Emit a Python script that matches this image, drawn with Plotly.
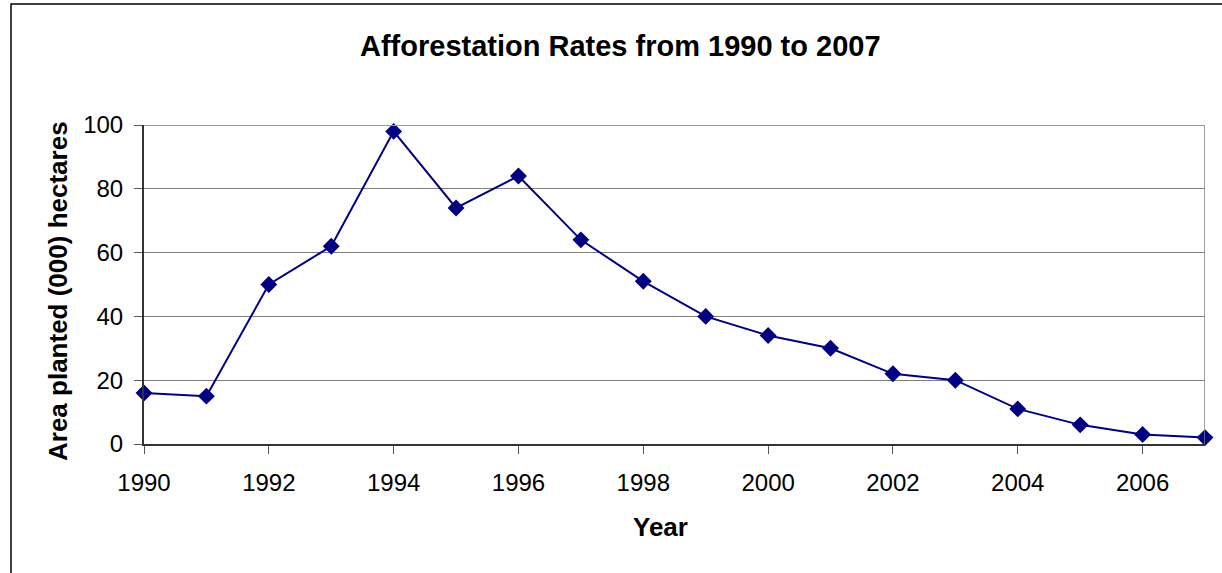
import plotly.graph_objects as go

years = list(range(1990, 2008))
area = [16, 15, 50, 62, 98, 74, 84, 64, 51, 40, 34, 30, 22, 20, 11, 6, 3, 2]
x_ticks = [1990, 1992, 1994, 1996, 1998, 2000, 2002, 2004, 2006]
y_ticks = [0, 20, 40, 60, 80, 100]

W, H = 1222, 573
L, R, T, B = 144, 17, 125, 129
PW, PH = W - L - R, H - T - B


def px(x):
    return (x - L) / PW


def py(y):
    return (H - B - y) / PH


fig = go.Figure()
fig.add_trace(go.Scatter(
    x=years, y=area, mode="lines+markers",
    line=dict(color="#000080", width=2),
    marker=dict(symbol="diamond", size=13, color="#000080"),
    cliponaxis=False, showlegend=False,
))

font = "Liberation Sans, Arial, sans-serif"
fig.update_layout(
    width=W, height=H,
    margin=dict(l=L, r=R, t=T, b=B),
    paper_bgcolor="white", plot_bgcolor="white",
    font=dict(family=font, color="black", size=24),
    xaxis=dict(range=[1990, 2007], tickvals=x_ticks, showgrid=False,
               showline=True, linecolor="#333333", linewidth=2,
               ticks="outside", ticklen=8, tickcolor="#555555", tickwidth=1,
               ticklabelstandoff=8,
               mirror=False, zeroline=False, tickfont=dict(size=24)),
    yaxis=dict(range=[0, 100], tickvals=y_ticks, showgrid=True,
               gridcolor="#7f7f7f", gridwidth=1.3,
               showline=True, linecolor="#333333", linewidth=2,
               ticks="outside", ticklen=8, tickcolor="#555555",
               ticklabelstandoff=6,
               zeroline=False, tickfont=dict(size=24)),
    shapes=[
        dict(type="line", xref="x", yref="paper", x0=2007, x1=2007, y0=0, y1=1,
             line=dict(color="#808080", width=1.5)),
        dict(type="line", xref="paper", yref="y", x0=0, x1=1, y0=100, y1=100,
             line=dict(color="#999999", width=2)),
        dict(type="rect", xref="paper", yref="paper",
             x0=px(11), x1=1.2, y0=-0.5, y1=py(4),
             line=dict(color="black", width=1.5), layer="below"),
    ],
    annotations=[
        dict(text="<b>Afforestation Rates from 1990 to 2007</b>", xref="paper", yref="paper",
             x=px(620), y=py(46), showarrow=False, font=dict(size=29),
             xanchor="center", yanchor="middle"),
        dict(text="<b>Area planted (000) hectares</b>", xref="paper", yref="paper",
             x=px(58), y=py(291), textangle=-90, showarrow=False, font=dict(size=26),
             xanchor="center", yanchor="middle"),
        dict(text="<b>Year</b>", xref="paper", yref="paper",
             x=px(660), y=py(527), showarrow=False, font=dict(size=26),
             xanchor="center", yanchor="middle"),
    ],
)

fig.write_html("out.html", config={"displayModeBar": False},
               post_script="document.body.style.margin='0px';")
